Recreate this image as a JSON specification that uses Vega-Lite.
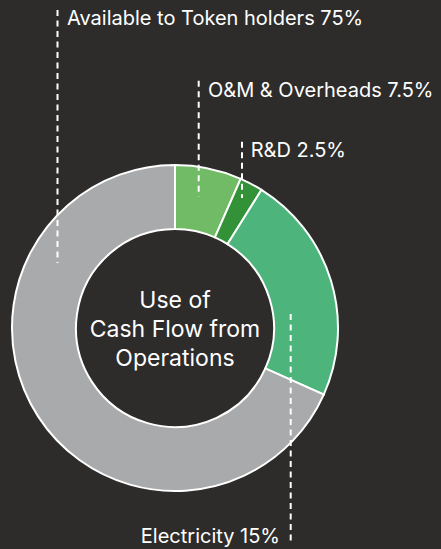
{
  "$schema": "https://vega.github.io/schema/vega-lite/v6.json",
  "width": 441,
  "height": 549,
  "padding": 0,
  "autosize": {"type": "none"},
  "background": "#2d2c2b",
  "config": {"view": {"stroke": null}, "font": "Inter"},
  "datasets": {
    "slices": [
      {"category": "O&M & Overheads", "share": 6.6, "order": 1},
      {"category": "R&D", "share": 2.3, "order": 2},
      {"category": "Electricity", "share": 22.8, "order": 3},
      {"category": "Available to Token holders", "share": 68.3, "order": 4}
    ],
    "callouts": [
      {"label": "Available to Token holders 75%", "lx": -117.5, "ly1": 318, "ly2": 65, "tx": -108, "ty": 308.8, "side": "left"},
      {"label": "O&M & Overheads 7.5%", "lx": 23.7, "ly1": 247.3, "ly2": 131.5, "tx": 33, "ty": 237.5, "side": "left"},
      {"label": "R&D 2.5%", "lx": 67, "ly1": 186.3, "ly2": 130, "tx": 75.7, "ty": 177.5, "side": "left"},
      {"label": "Electricity 15%", "lx": 115.7, "ly1": 14, "ly2": -215, "tx": 105, "ty": -208.8, "side": "right"}
    ],
    "title": [
      {"line": "Use of", "ty": 27.5},
      {"line": "Cash Flow from", "ty": -1.5},
      {"line": "Operations", "ty": -30.5}
    ]
  },
  "layer": [
    {
      "data": {"name": "slices"},
      "mark": {"type": "arc", "innerRadius": 99, "outerRadius": 163, "stroke": "#ffffff", "strokeWidth": 2},
      "encoding": {
        "x": {"datum": 0, "type": "quantitative", "scale": {"domain": [-175, 266], "nice": false, "zero": false}, "axis": null},
        "y": {"datum": 0, "type": "quantitative", "scale": {"domain": [-221, 328], "nice": false, "zero": false}, "axis": null},
        "theta": {"field": "share", "type": "quantitative", "stack": true},
        "order": {"field": "order", "type": "quantitative"},
        "color": {
          "field": "category",
          "type": "nominal",
          "scale": {
            "domain": ["O&M & Overheads", "R&D", "Electricity", "Available to Token holders"],
            "range": ["#72bb66", "#339238", "#4db57c", "#a9aaac"]
          },
          "legend": null
        }
      }
    },
    {
      "data": {"name": "callouts"},
      "mark": {"type": "rule", "stroke": "#ffffff", "strokeWidth": 2, "strokeDash": [6, 4.5]},
      "encoding": {
        "x": {"field": "lx", "type": "quantitative", "axis": null},
        "y": {"field": "ly1", "type": "quantitative", "axis": null},
        "y2": {"field": "ly2"}
      }
    },
    {
      "data": {"name": "callouts"},
      "transform": [{"filter": "datum.side === 'left'"}],
      "mark": {"type": "text", "color": "#ffffff", "fontSize": 20, "baseline": "middle", "align": "left"},
      "encoding": {
        "x": {"field": "tx", "type": "quantitative", "axis": null},
        "y": {"field": "ty", "type": "quantitative", "axis": null},
        "text": {"field": "label"}
      }
    },
    {
      "data": {"name": "callouts"},
      "transform": [{"filter": "datum.side === 'right'"}],
      "mark": {"type": "text", "color": "#ffffff", "fontSize": 20, "baseline": "middle", "align": "right"},
      "encoding": {
        "x": {"field": "tx", "type": "quantitative", "axis": null},
        "y": {"field": "ty", "type": "quantitative", "axis": null},
        "text": {"field": "label"}
      }
    },
    {
      "data": {"name": "title"},
      "mark": {"type": "text", "color": "#ffffff", "fontSize": 23, "baseline": "middle", "align": "center"},
      "encoding": {
        "x": {"datum": 0, "type": "quantitative", "axis": null},
        "y": {"field": "ty", "type": "quantitative", "axis": null},
        "text": {"field": "line"}
      }
    }
  ]
}
